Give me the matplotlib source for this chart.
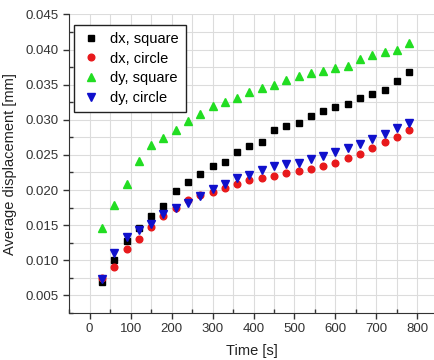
import matplotlib
matplotlib.use('Agg')
import matplotlib.pyplot as plt
from matplotlib.ticker import MultipleLocator
import numpy as np

plt.rcParams['font.family'] = ['Liberation Sans', 'DejaVu Sans']

# time points [s]
time_s = np.arange(30, 781, 30)

dx_square = [0.0069, 0.0101, 0.0127, 0.0146, 0.0163, 0.0177, 0.0199, 0.0211, 0.0223,
             0.0234, 0.0240, 0.0254, 0.0262, 0.0269, 0.0285, 0.0291, 0.0296, 0.0306,
             0.0312, 0.0318, 0.0323, 0.0331, 0.0336, 0.0342, 0.0355, 0.0368]
dx_circle = [0.0075, 0.0091, 0.0116, 0.0131, 0.0147, 0.0163, 0.0175, 0.0186, 0.0193,
             0.0197, 0.0203, 0.0209, 0.0214, 0.0217, 0.0220, 0.0224, 0.0227, 0.0230,
             0.0234, 0.0239, 0.0245, 0.0252, 0.0260, 0.0268, 0.0276, 0.0285]
dy_square = [0.0146, 0.0178, 0.0209, 0.0241, 0.0264, 0.0274, 0.0286, 0.0298, 0.0308,
             0.0319, 0.0325, 0.0331, 0.0339, 0.0345, 0.0350, 0.0357, 0.0362, 0.0367,
             0.0370, 0.0374, 0.0377, 0.0386, 0.0392, 0.0396, 0.0400, 0.0409]
dy_circle = [0.0073, 0.0110, 0.0133, 0.0143, 0.0152, 0.0166, 0.0175, 0.0182, 0.0192,
             0.0201, 0.0209, 0.0217, 0.0222, 0.0228, 0.0234, 0.0237, 0.0239, 0.0244,
             0.0248, 0.0254, 0.0260, 0.0266, 0.0273, 0.0280, 0.0288, 0.0295]

fig = plt.figure(figsize=(4.35, 3.6), dpi=100)
ax = fig.add_axes([0.159, 0.1306, 0.841, 0.8294])

ax.plot(time_s, dx_square, 's', color='black', ms=4.3, label='dx, square', zorder=3)
ax.plot(time_s, dx_circle, 'o', color='#e8191c', ms=4.8, label='dx, circle', zorder=3)
ax.plot(time_s, dy_square, '^', color='#22dd22', ms=5.5, label='dy, square', zorder=3)
ax.plot(time_s, dy_circle, 'v', color='#1010cc', ms=5.5, label='dy, circle', zorder=4)

ax.set_xlim(-50, 843)
ax.set_ylim(0.0025, 0.045)
ax.xaxis.set_major_locator(MultipleLocator(100))
ax.xaxis.set_minor_locator(MultipleLocator(50))
ax.yaxis.set_major_locator(MultipleLocator(0.005))
ax.yaxis.set_minor_locator(MultipleLocator(0.0025))
ax.yaxis.set_major_formatter(plt.FormatStrFormatter('%.3f'))

ax.grid(True, which='both', color='#dcdcdc', linewidth=0.8)
ax.set_axisbelow(True)
ax.spines['top'].set_visible(False)
ax.spines['right'].set_visible(False)
ax.spines['left'].set_color('#333333')
ax.spines['bottom'].set_color('#333333')
ax.tick_params(which='major', direction='out', length=4, width=1, colors='#333333',
               labelsize=9.5, labelcolor='#333333')
ax.tick_params(which='minor', direction='in', length=3, width=1, colors='#333333')

ax.set_xlabel('Time [s]', fontsize=10.5, color='#222222', labelpad=6)
ax.set_ylabel('Average displacement [mm]', fontsize=10.5, color='#222222', labelpad=6)

leg = ax.legend(loc='upper left', bbox_to_anchor=(0.0, 0.98), fontsize=10.5,
                frameon=True, fancybox=False, edgecolor='#222222', framealpha=1,
                handletextpad=0.6, borderpad=0.5, labelspacing=0.38, handlelength=1.4,
                borderaxespad=0.3)
leg.get_frame().set_linewidth(1.0)

fig.savefig('out.png', dpi=100)
